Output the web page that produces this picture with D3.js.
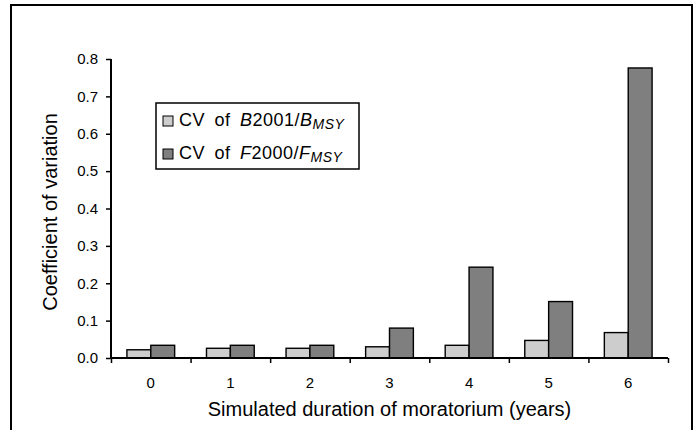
<!DOCTYPE html>
<html>
<head>
<meta charset="utf-8">
<script src="https://cdn.jsdelivr.net/npm/d3@7"></script>
<style>
  body { margin: 0; background: #fff; }
  svg { display: block; font-family: "Liberation Sans", Arial, sans-serif; }
</style>
</head>
<body>
<svg id="chart" width="698" height="430"></svg>
<script>
'use strict';

// years of moratorium
var years = ["0", "1", "2", "3", "4", "5", "6"];
var seriesNames = ["cvB", "cvF"];
// CV of B2001/Bmsy
var cvB = [0.022, 0.026, 0.026, 0.030, 0.034, 0.047, 0.068];
// CV of F2000/Fmsy
var cvF = [0.034, 0.034, 0.034, 0.080, 0.243, 0.151, 0.776];
var yTicks = [0, 0.1, 0.2, 0.3, 0.4, 0.5, 0.6, 0.7, 0.8];

var colors = { cvB: "#cdcdcd", cvF: "#7f7f7f" };

var svg = d3.select("#chart");
var margin = { top: 59, left: 111, right: 30, bottom: 72 };
var width = 698 - margin.left - margin.right;   // 557
var height = 430 - margin.top - margin.bottom;  // 299

// outer frame (bottom edge runs off the picture)
svg.append("rect")
  .attr("x", 11).attr("y", 5)
  .attr("width", 681).attr("height", 440)
  .attr("fill", "none")
  .attr("stroke", "#000")
  .attr("stroke-width", 2);

var g = svg.append("g")
  .attr("transform", "translate(" + margin.left + "," + margin.top + ")");

var x0 = d3.scaleBand().domain(years).range([0, width]).padding(0);
var x1 = d3.scaleBand().domain(seriesNames)
  .range([x0.bandwidth() * 0.2, x0.bandwidth() * 0.8]).padding(0);
var y = d3.scaleLinear().domain([0, 0.8]).range([height, 0]);

var rows = years.map(function (yr, i) {
  return { year: yr, cvB: cvB[i], cvF: cvF[i] };
});

// bars
var groups = g.selectAll(".grp")
  .data(rows)
  .enter().append("g")
  .attr("class", "grp")
  .attr("transform", function (d) { return "translate(" + x0(d.year) + ",0)"; });

groups.selectAll("rect")
  .data(function (d) { return seriesNames.map(function (k) { return { key: k, value: d[k] }; }); })
  .enter().append("rect")
  .attr("x", function (d) { return x1(d.key); })
  .attr("width", x1.bandwidth())
  .attr("y", function (d) { return y(d.value); })
  .attr("height", function (d) { return height - y(d.value); })
  .attr("fill", function (d) { return colors[d.key]; })
  .attr("stroke", "#000")
  .attr("stroke-width", 1.4);

// y axis
var yAxis = g.append("g")
  .call(d3.axisLeft(y).tickValues(yTicks).tickFormat(d3.format(".1f"))
    .tickSize(5).tickPadding(8));
yAxis.select(".domain").attr("stroke-width", 2).attr("d", "M0,0V" + height);
yAxis.selectAll(".tick line").attr("stroke-width", 1.5);
yAxis.selectAll("text").attr("font-size", 15).attr("font-family", null).attr("fill", "#000");

// x axis: tick marks on band edges, labels at band centres
var edges = d3.scaleLinear().domain([0, years.length]).range([0, width]);
var xEdge = g.append("g")
  .attr("transform", "translate(0," + height + ")")
  .call(d3.axisBottom(edges).ticks(years.length).tickFormat("").tickSize(5));
xEdge.select(".domain").attr("stroke-width", 2).attr("d", "M0,0H" + width);
xEdge.selectAll(".tick line").attr("stroke-width", 1.5);

var xLab = g.append("g")
  .attr("transform", "translate(0," + height + ")")
  .call(d3.axisBottom(x0).tickSize(0).tickPadding(19));
xLab.select(".domain").remove();
xLab.selectAll("text").attr("font-size", 15).attr("font-family", null).attr("fill", "#000");

// axis titles
svg.append("text")
  .attr("x", margin.left + width / 2)
  .attr("y", 416)
  .attr("text-anchor", "middle")
  .attr("font-size", 20)
  .text("Simulated duration of moratorium (years)");

svg.append("text")
  .attr("transform", "translate(57," + 212 + ") rotate(-90)")
  .attr("text-anchor", "middle")
  .attr("font-size", 20)
  .text("Coefficient of variation");

// legend
var legend = svg.append("g").attr("transform", "translate(156,103)");
legend.append("rect")
  .attr("width", 203).attr("height", 66)
  .attr("fill", "#fff")
  .attr("stroke", "#000")
  .attr("stroke-width", 1.5);

var legendItems = [
  { key: "cvB", letter: "B", year: "2001" },
  { key: "cvF", letter: "F", year: "2000" }
];

legendItems.forEach(function (it, i) {
  var row = legend.append("g").attr("transform", "translate(0," + (23 + i * 33) + ")");
  row.append("rect")
    .attr("x", 7).attr("y", -10)
    .attr("width", 10).attr("height", 10)
    .attr("fill", colors[it.key])
    .attr("stroke", "#000")
    .attr("stroke-width", 1);
  var t = row.append("text").attr("x", 23).attr("y", 0)
    .attr("font-size", 18)
    .attr("letter-spacing", 0.5)
    .attr("word-spacing", 4);
  t.append("tspan").text("CV of ");
  t.append("tspan").attr("font-style", "italic").text(it.letter);
  t.append("tspan").text(it.year + "/");
  t.append("tspan").attr("font-style", "italic").text(it.letter);
  t.append("tspan").attr("font-style", "italic").attr("font-size", 14)
    .attr("dy", 3).text("MSY");
});
</script>
</body>
</html>
